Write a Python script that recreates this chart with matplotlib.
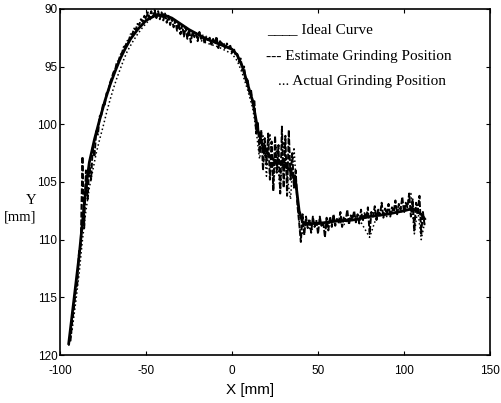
import numpy as np
import matplotlib.pyplot as plt

plt.rcParams['axes.unicode_minus'] = False

# Ideal curve (smooth)
ideal_x = [-95, -93, -91, -89, -87, -85, -83, -80, -77, -74, -71, -68, -65, -62,
           -59, -55, -50, -45, -40, -35, -30, -25, -20, -15, -10, -5, 0, 3, 6, 9,
           12, 15, 18, 22, 26, 30, 34, 37, 39, 41, 45, 50, 60, 70, 80, 90, 100,
           105, 110, 112]
ideal_y = [119.0, 116.5, 114.0, 111.5, 108.5, 105.5, 103.3, 101.3, 99.6, 98.0,
           96.6, 95.4, 94.3, 93.4, 92.6, 91.8, 91.0, 90.6, 90.5, 90.8, 91.3, 91.8,
           92.2, 92.6, 92.9, 93.2, 93.5, 94.0, 95.0, 96.5, 98.0, 100.5, 102.0,
           102.8, 103.3, 103.5, 104.0, 105.0, 107.5, 108.5, 108.6, 108.6, 108.4,
           108.3, 108.0, 107.8, 107.5, 107.3, 107.8, 108.2]

# Estimate grinding position, sampled every 1 mm from -94 to 112
est_x = np.arange(-94, 113, 1)
est_y = [118.8, 117.2, 116.0, 114.5, 113.8, 111.0, 110.5, 102.8, 109.0, 104.0,
         106.5, 103.5, 104.8, 102.0, 102.8, 100.6, 100.9, 99.3, 99.2, 98.2,
         98.3, 97.3, 97.2, 96.4, 96.0, 95.5, 95.3, 94.6, 94.5, 94.0,
         93.8, 93.3, 93.2, 92.8, 92.7, 92.2, 92.2, 91.7, 91.8, 91.3,
         91.4, 90.9, 91.1, 90.6, 90.9, 90.3, 90.8, 90.2, 90.7, 90.1,
         90.8, 90.2, 90.9, 90.3, 91.0, 90.4, 91.2, 90.6, 91.4, 90.8,
         91.6, 91.0, 91.9, 91.2, 92.2, 91.4, 92.4, 91.6, 92.6, 91.8,
         92.9, 92.0, 92.4, 92.1, 92.8, 92.0, 92.6, 92.3, 93.0, 92.4,
         92.7, 92.5, 93.1, 92.6, 93.0, 92.4, 93.4, 92.8, 93.0, 92.9,
         93.5, 93.0, 93.3, 93.2, 93.8, 93.4, 94.0, 93.9, 94.6, 94.3,
         95.3, 95.0, 96.2, 96.0, 97.2, 97.0, 98.2, 98.0, 100.8, 99.8,
         102.5, 100.5, 104.0, 101.2, 103.5, 100.8, 104.8, 101.5, 105.8, 101.0,
         104.2, 101.8, 106.0, 100.2, 105.5, 101.0, 106.2, 100.5, 104.8, 102.5,
         105.5, 104.0, 107.0, 108.5, 110.2, 107.8, 109.6, 108.0, 109.0, 108.2,
         109.4, 108.0, 108.9, 108.3, 109.5, 108.0, 108.8, 108.4, 109.8, 108.1,
         109.2, 108.0, 108.9, 107.8, 108.8, 108.2, 108.6, 107.6, 108.9, 108.0,
         108.4, 107.4, 108.7, 107.9, 108.3, 107.5, 108.5, 107.8, 108.6, 107.4,
         108.4, 107.7, 108.2, 107.2, 109.5, 107.6, 108.0, 107.1, 108.3, 107.4,
         107.9, 106.8, 108.1, 107.3, 107.8, 106.9, 108.0, 107.2, 107.6, 106.6,
         107.8, 106.9, 107.4, 106.3, 107.6, 106.8, 107.2, 106.0, 108.0, 106.5,
         109.2, 106.8, 107.5, 106.2, 109.5, 107.6, 108.8]

# Actual grinding position
act_x = [-95, -93, -91, -89, -87, -85, -83, -81, -79, -77, -75, -73, -71, -69,
         -67, -65, -63, -61, -58, -55, -52, -49, -46, -43, -40, -36, -32, -28,
         -24, -20, -16, -12, -8, -4, 0, 3, 6, 9, 12, 14, 16, 18, 20, 22, 24, 26,
         28, 30, 32, 34, 36, 38, 40, 43, 46, 50, 55, 60, 65, 70, 75, 80, 85, 90,
         95, 100, 104, 106, 108, 110, 112]
act_y = [119.2, 117.8, 115.5, 113.0, 110.0, 107.5, 105.5, 104.0, 102.5, 101.3,
         100.2, 99.0, 97.9, 96.9, 96.0, 95.2, 94.4, 93.7, 92.9, 92.2, 91.6, 91.1,
         90.7, 90.5, 90.6, 90.9, 91.4, 91.9, 92.3, 92.6, 92.9, 93.1, 93.3, 93.6,
         93.9, 94.5, 95.6, 97.0, 98.6, 100.5, 103.0, 101.0, 104.5, 100.8, 105.5,
         102.0, 106.0, 101.5, 104.5, 106.5, 102.0, 106.8, 109.8, 108.6, 109.2,
         108.4, 109.0, 108.2, 108.7, 107.9, 108.5, 109.8, 107.6, 108.0, 107.2,
         107.7, 106.0, 109.5, 107.3, 110.0, 108.5]

legend_lines = ["____ Ideal Curve", "--- Estimate Grinding Position",
                "... Actual Grinding Position"]

fig = plt.figure(figsize=(5.01, 4.03), dpi=100)
ax = fig.add_axes([0.12, 0.119, 0.858, 0.859])

ax.plot(ideal_x, ideal_y, color='black', lw=2.0)
ax.plot(est_x, est_y, color='black', lw=1.4, linestyle=(0, (3, 1)))
ax.plot(act_x, act_y, color='black', lw=1.1, linestyle=':')

ax.set_xlim(-100, 150)
ax.set_ylim(120, 90)
ax.set_xticks([-100, -50, 0, 50, 100, 150])
ax.set_yticks([90, 95, 100, 105, 110, 115, 120])
ax.tick_params(direction='in', length=3, top=True, right=True,
               labelsize=8.5, pad=2)
ax.tick_params(axis='x', pad=7)
for lbl in ax.get_xticklabels() + ax.get_yticklabels():
    lbl.set_family('Liberation Sans')
for s in ax.spines.values():
    s.set_linewidth(1.2)

fig.text(0.50, 0.032, 'X [mm]', family='Liberation Sans', fontsize=11,
         ha='center', va='center')
fig.text(0.062, 0.503, 'Y', family='Liberation Serif', fontsize=10.5,
         ha='center', va='center')
fig.text(0.040, 0.462, '[mm]', family='Liberation Serif', fontsize=10.5,
         ha='center', va='center')

# legend written as text, like in the original
text_pos = [(0.533, 0.926), (0.531, 0.861), (0.555, 0.797)]
for (tx, ty), line in zip(text_pos, legend_lines):
    fig.text(tx, ty, line, family='Liberation Serif', fontsize=11,
             va='center')

fig.savefig('out.png', dpi=100)
